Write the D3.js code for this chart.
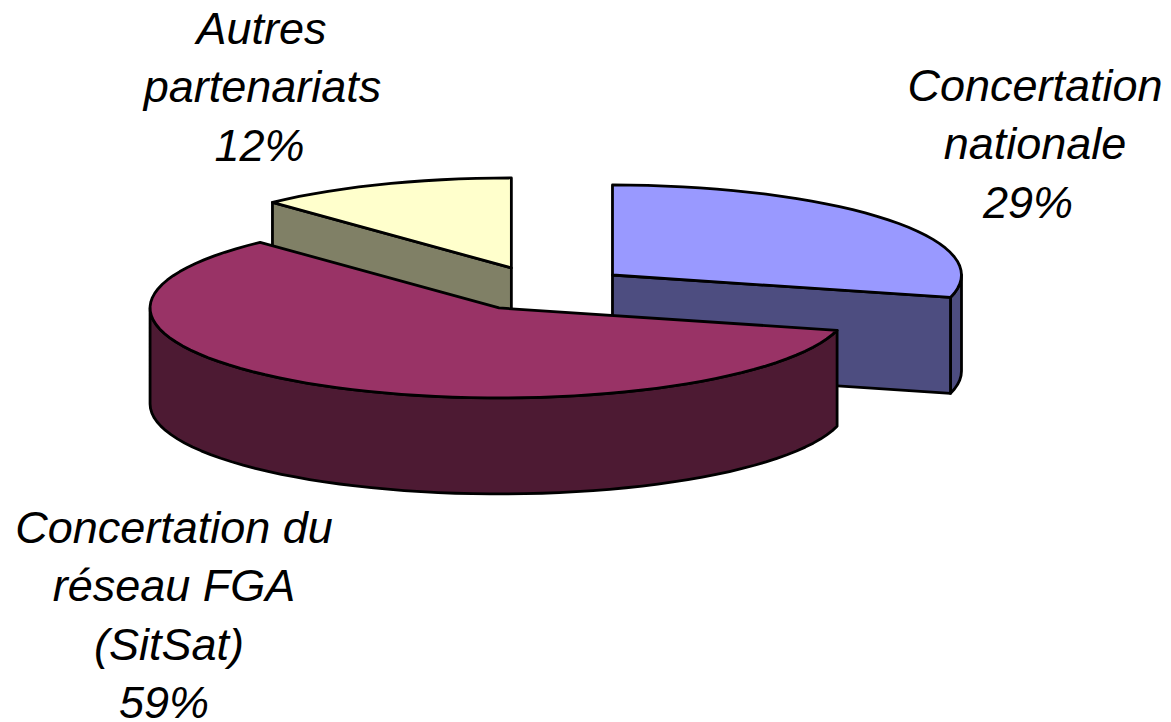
<!DOCTYPE html>
<html lang="fr">

<head>
    <meta charset="UTF-8">
    <script src="https://d3js.org/d3.v7.min.js"></script>
    <title>Concertation</title>
    <style>
        body {
            margin: 0;
            background: white;
        }

        svg {
            display: block;
        }

        text {
            font-family: "Liberation Sans", Arial, sans-serif;
            font-style: italic;
            font-size: 45px;
            fill: black;
            text-anchor: middle;
        }

        path {
            stroke: black;
            stroke-width: 2.8px;
            stroke-linejoin: round;
        }
    </style>
</head>

<body>
    <script>
        // chart data
        const categories = [
            ["Concertation", "nationale"],
            ["Concertation du", "réseau FGA", "(SitSat)"],
            ["Autres", "partenariats"]
        ];
        const percents = [29, 59, 12];
        const topColors = ["#9999ff", "#993366", "#ffffcc"];
        const sideColors = ["#4d4d80", "#4d1a33", "#808066"];

        // page and pie geometry
        const width = 1171, height = 722;
        const center = { x: 543.5, y: 288.7 };
        const rx = 349, ry = 90;
        const depth = 96;
        const explode = 87.3;   // slice offset, along the ellipse
        const squash = 0.256;

        // where each label block sits: centre x, first baseline
        const labelPos = [
            { x: 1035, y: 101 },
            { x: 174, y: 543 },
            { x: 262.5, y: 44 }
        ];
        const lineHeight = 58.3;
        // the lines of a label are not quite centred on each other
        const lineShift = [
            [0, 0, -7],
            [0, 0, -5, -10],
            [-1, 0, -3]
        ];

        const svg = d3.select("body").append("svg")
            .attr("width", width)
            .attr("height", height);

        const slices = d3.pie().sort(null)(percents);

        const line = d3.line();

        // point on the rim of a slice, angle clockwise from the top
        function rim(c, a, dy = 0) {
            return [c.x + rx * Math.sin(a), c.y - ry * Math.cos(a) + dy];
        }

        // coarse steps, the original rim is a polygon too
        function arcPoints(c, a0, a1, dy = 0) {
            const n = Math.max(2, Math.round(Math.abs(a1 - a0) / 0.05));
            return d3.range(0, n + 1).map(k => rim(c, a0 + (a1 - a0) * k / n, dy));
        }

        function sliceCenter(s) {
            const mid = (s.startAngle + s.endAngle) / 2;
            return {
                x: center.x + explode * Math.sin(mid),
                y: center.y - explode * squash * Math.cos(mid)
            };
        }

        function drawPoly(points, color) {
            svg.append("path")
                .attr("d", line(points) + "Z")
                .attr("fill", color);
        }

        // radial wall between the apex and the rim at angle a
        function radialWall(c, a, color) {
            const p = rim(c, a);
            drawPoly([[c.x, c.y], p, [p[0], p[1] + depth], [c.x, c.y + depth]], color);
        }

        // outer wall along the front of the ellipse
        function outerWall(c, a0, a1, color) {
            drawPoly(arcPoints(c, a0, a1).concat(arcPoints(c, a1, a0, depth)), color);
        }

        // back to front: yellow, blue, maroon
        [2, 0, 1].forEach(i => {
            const s = slices[i];
            const c = sliceCenter(s);

            if (i === 2) {
                radialWall(c, s.startAngle, sideColors[i]);
            }
            if (i === 0) {
                outerWall(c, Math.PI / 2, s.endAngle, sideColors[i]);
                radialWall(c, s.endAngle, sideColors[i]);
            }
            if (i === 1) {
                outerWall(c, s.startAngle, Math.PI * 1.5, sideColors[i]);
            }

            drawPoly([[c.x, c.y]].concat(arcPoints(c, s.startAngle, s.endAngle)), topColors[i]);
        });

        // labels
        categories.forEach((lines, i) => {
            const label = svg.append("text");
            lines.concat(percents[i] + "%").forEach((t, j) => {
                label.append("tspan")
                    .attr("x", labelPos[i].x + lineShift[i][j])
                    .attr("y", labelPos[i].y + j * lineHeight)
                    .text(t);
            });
        });
    </script>
</body>

</html>
